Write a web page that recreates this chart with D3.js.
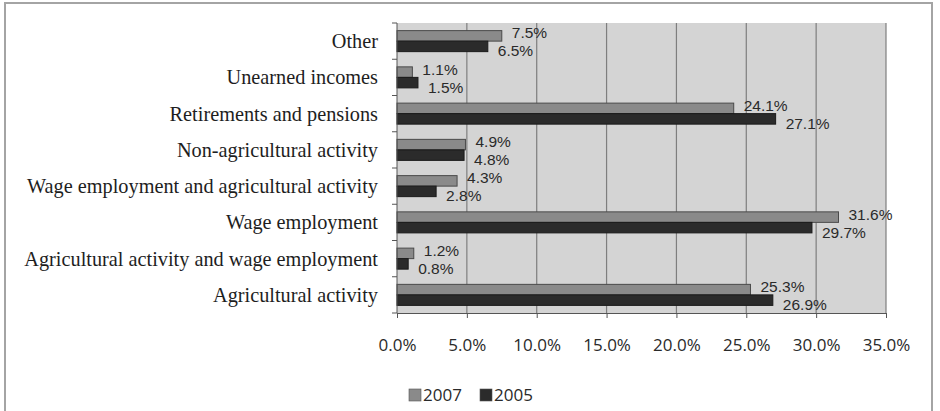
<!DOCTYPE html>
<html>
<head>
<meta charset="utf-8">
<script src="https://cdn.jsdelivr.net/npm/d3@7"></script>
<style>
  body { margin: 0; background: #fff; }
  svg { display: block; }
</style>
</head>
<body>
<svg id="chart"></svg>
<script>
// data
const categories = [
  "Other",
  "Unearned incomes",
  "Retirements and pensions",
  "Non-agricultural activity",
  "Wage employment and agricultural activity",
  "Wage employment",
  "Agricultural activity and wage employment",
  "Agricultural activity"
];
const seriesNames = ["2007", "2005"];
const values2007 = [7.5, 1.1, 24.1, 4.9, 4.3, 31.6, 1.2, 25.3];
const values2005 = [6.5, 1.5, 27.1, 4.8, 2.8, 29.7, 0.8, 26.9];
const xTicks = [0, 5, 10, 15, 20, 25, 30, 35];

const width = 940;
const height = 411;
const plot = { left: 397, right: 886, top: 23, bottom: 313 };
const colors = { "2007": "#8a8a8a", "2005": "#2b2b2b" };

let svg = d3.select("#chart").attr("width", width).attr("height", height);

// outer frame
svg.append("rect")
  .attr("x", 5).attr("y", 3)
  .attr("width", 927).attr("height", 420)
  .attr("fill", "none")
  .attr("stroke", "#a4a4a4")
  .attr("stroke-width", 2);

let x = d3.scaleLinear().domain([0, 35]).range([plot.left, plot.right]);
let y = d3.scaleBand()
  .domain(categories)
  .range([plot.top, plot.bottom])
  .paddingInner(0.42)
  .paddingOuter(0.21);
let ySub = d3.scaleBand().domain(seriesNames).range([0, y.bandwidth()]);

// plot background
svg.append("rect")
  .attr("x", plot.left).attr("y", plot.top)
  .attr("width", plot.right - plot.left)
  .attr("height", plot.bottom - plot.top)
  .attr("fill", "#d4d4d4");

// gridlines
svg.append("g")
  .selectAll("line")
  .data(xTicks.slice(1))
  .enter()
  .append("line")
  .attr("x1", (d) => x(d)).attr("x2", (d) => x(d))
  .attr("y1", plot.top).attr("y2", plot.bottom)
  .attr("stroke", "#7e7e7e")
  .attr("stroke-width", 1.2);

// bars
let rows = categories.map((c, i) => ({
  cat: c,
  vals: [
    { s: "2007", v: values2007[i] },
    { s: "2005", v: values2005[i] }
  ]
}));

let groups = svg.append("g")
  .selectAll("g")
  .data(rows)
  .enter()
  .append("g")
  .attr("transform", (d) => "translate(0," + y(d.cat) + ")");

groups.selectAll("rect")
  .data((d) => d.vals)
  .enter()
  .append("rect")
  .attr("x", x(0))
  .attr("y", (d) => ySub(d.s))
  .attr("width", (d) => x(d.v) - x(0))
  .attr("height", ySub.bandwidth())
  .attr("fill", (d) => colors[d.s])
  .attr("stroke", (d) => (d.s === "2007" ? "#4a4a4a" : "#1a1a1a"))
  .attr("stroke-width", 1);

// value labels: 2007 a bit above its bar centre, 2005 a bit below
groups.selectAll("text")
  .data((d) => d.vals)
  .enter()
  .append("text")
  .attr("x", (d) => x(d.v) + 10)
  .attr("y", (d) => ySub(d.s) + ySub.bandwidth() / 2 + (d.s === "2007" ? -3 : 4.5))
  .attr("dy", "0.35em")
  .attr("font-family", "'Liberation Sans', Arial, sans-serif")
  .attr("font-size", 15.5)
  .attr("fill", "#2a2a2a")
  .text((d) => d.v.toFixed(1) + "%");

// y axis
let yAxis = svg.append("g");
yAxis.append("line")
  .attr("x1", plot.left).attr("x2", plot.left)
  .attr("y1", plot.top).attr("y2", plot.bottom)
  .attr("stroke", "#555");
let bounds = d3.range(categories.length + 1).map((i) => plot.top + i * (plot.bottom - plot.top) / categories.length);
yAxis.selectAll(".yt")
  .data(bounds)
  .enter()
  .append("line")
  .attr("class", "yt")
  .attr("x1", plot.left - 5).attr("x2", plot.left)
  .attr("y1", (d) => d).attr("y2", (d) => d)
  .attr("stroke", "#555");
yAxis.selectAll("text")
  .data(categories)
  .enter()
  .append("text")
  .attr("x", 378)
  .attr("y", (d) => y(d) + y.bandwidth() / 2)
  .attr("dy", "0.35em")
  .attr("text-anchor", "end")
  .attr("font-family", "'Liberation Serif', serif")
  .attr("font-size", 20.3)
  .attr("fill", "#1e1e1e")
  .text((d) => d);

// x axis
let xAxis = svg.append("g")
  .attr("transform", "translate(0," + plot.bottom + ")")
  .call(d3.axisBottom(x).tickValues(xTicks).tickSize(5).tickPadding(21).tickFormat((d) => d.toFixed(1) + "%"));
xAxis.select(".domain").attr("stroke", "#555");
xAxis.selectAll(".tick line").attr("stroke", "#555");
xAxis.selectAll(".tick text")
  .attr("font-family", "'Open Sans', sans-serif")
  .attr("font-size", 17)
  .attr("fill", "#2a2a2a");

// legend
let legendX = [409, 480];
let legend = svg.append("g")
  .selectAll("g")
  .data(seriesNames)
  .enter()
  .append("g")
  .attr("transform", (d, i) => "translate(" + legendX[i] + ",389)");
legend.append("rect")
  .attr("width", 12).attr("height", 12)
  .attr("fill", (d) => colors[d])
  .attr("stroke", "#555")
  .attr("stroke-width", 0.6);
legend.append("text")
  .attr("x", 14).attr("y", 6.5)
  .attr("dy", "0.35em")
  .attr("font-family", "'Open Sans', sans-serif")
  .attr("font-size", 17)
  .attr("fill", "#2a2a2a")
  .text((d) => d);
</script>
</body>
</html>
